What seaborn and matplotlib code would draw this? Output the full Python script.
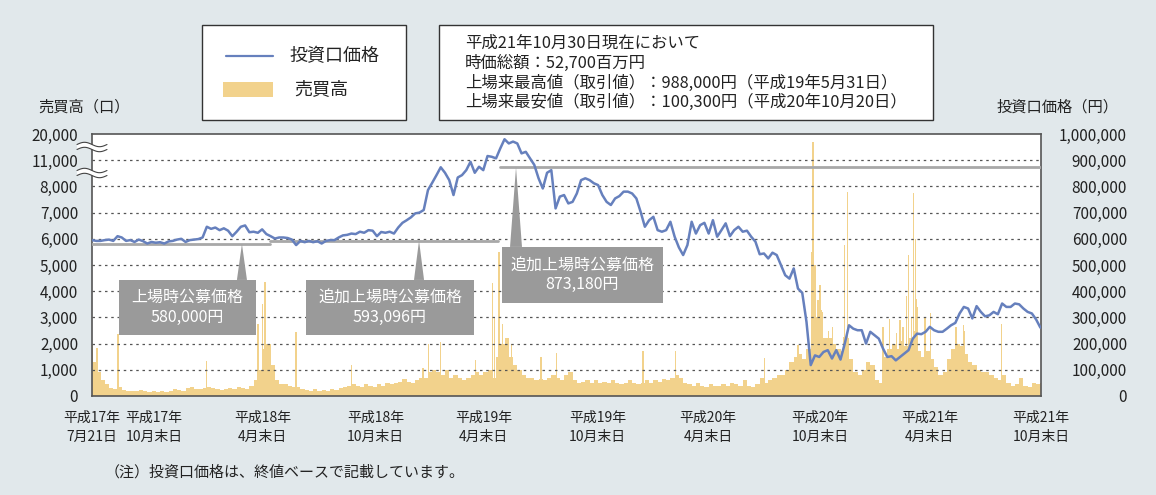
import numpy as np
import pandas as pd
import matplotlib
matplotlib.use('Agg')
import matplotlib.pyplot as plt
from matplotlib.patches import Rectangle, Polygon
from matplotlib.lines import Line2D
import seaborn as sns

#####################################
# data (weekly closes in thousand yen, weekly volume, daily volume spikes)
start_date = '2005-07-21'
end_date = '2009-10-30'

price_k = [595, 592, 592, 595, 597, 592, 610, 605, 592, 595, 588, 597, 591, 582, 588,
           585, 587, 582, 590, 592, 597, 600, 588, 595, 597, 599, 605, 646, 638, 643,
           633, 640, 631, 610, 627, 646, 651, 625, 627, 623, 636, 618, 610, 601, 605,
           605, 603, 597, 576, 592, 587, 592, 587, 591, 582, 592, 595, 595, 605, 613,
           615, 620, 618, 627, 623, 633, 631, 610, 626, 623, 627, 620, 643, 661, 671,
           682, 697, 700, 710, 786, 814, 843, 873, 852, 824, 767, 834, 843, 862, 894, 852,
           875, 862, 916, 913, 907, 945, 980, 964, 971, 964, 926, 932, 907, 882, 831,
           792, 852, 862, 716, 761, 767, 735, 741, 773, 824, 831, 824, 812, 805, 767,
           741, 729, 754, 763, 780, 780, 773, 754, 703, 646, 671, 684, 633, 627,
           633, 665, 608, 567, 538, 576, 665, 620, 652, 661, 620, 671, 608, 633, 659,
           610, 633, 646, 627, 631, 608, 589, 541, 544, 525, 547, 538, 499, 461, 448,
           487, 410, 394, 283, 118, 155, 149, 168, 175, 143, 175, 139, 200, 270,
           257, 251, 251, 200, 245, 232, 219, 181, 149, 152, 136, 149, 162, 175, 219,
           238, 236, 245, 264, 251, 245, 245, 257, 270, 279, 315, 340, 334, 296, 343,
           321, 304, 308, 321, 312, 353, 340, 340, 353, 350, 334, 321, 315, 292, 261]

vol_base = [1300, 900, 600, 450, 300, 280, 350, 220, 200, 180, 200, 220, 180, 170, 200,
            160, 180, 150, 200, 250, 220, 180, 300, 350, 280, 250, 300, 350, 300, 250,
            220, 280, 300, 250, 350, 300, 280, 400, 600, 1000, 1800, 2000, 1200, 600, 450,
            450, 400, 350, 350, 250, 220, 200, 250, 200, 220, 200, 250, 220, 300, 350,
            400, 450, 400, 350, 450, 400, 350, 450, 400, 500, 450, 500, 550, 650, 550,
            500, 600, 700, 700, 900, 1000, 900, 800, 1000, 700, 800, 700, 600, 700, 800, 900,
            800, 900, 1000, 700, 1500, 2000, 2200, 1500, 1200, 1000, 800, 700, 700, 600, 650,
            600, 700, 800, 700, 600, 800, 900, 600, 500, 550, 600, 500, 600, 500, 550,
            500, 600, 500, 450, 500, 600, 500, 450, 500, 600, 500, 600, 550, 650,
            600, 700, 800, 700, 500, 450, 400, 500, 400, 350, 450, 400, 400, 450, 400,
            500, 450, 400, 600, 400, 350, 450, 700, 500, 600, 700, 800, 800, 1000, 1300,
            1500, 1600, 1400, 1800, 3500, 3000, 3200, 2200, 2200, 2000, 1800, 1700, 2200, 1400,
            900, 800, 1000, 1300, 1200, 600, 500, 1500, 1800, 2000, 1800, 2100, 1900, 2200, 2500,
            1700, 1500, 1700, 1400, 1100, 800, 900, 1400, 1800, 2000, 1900, 1600, 1300, 1200, 1000,
            900, 900, 800, 700, 600, 800, 500, 400, 450, 700, 400, 350, 500, 450, 500]

spike_dates = ['2005-07-22', '2005-07-29', '2005-09-02', '2006-01-25', '2006-04-20',
               '2006-04-28', '2006-05-02', '2006-06-22', '2006-09-21', '2007-01-17',
               '2007-01-26', '2007-02-15', '2007-04-13', '2007-05-11', '2007-05-14',
               '2007-05-22', '2007-05-28', '2007-06-05', '2007-06-11', '2007-07-30',
               '2007-08-24', '2008-01-14', '2008-03-07', '2008-08-01', '2008-09-25',
               '2008-10-17', '2008-10-20', '2008-10-23', '2008-10-28', '2008-10-31',
               '2008-11-03', '2008-11-14', '2008-11-21', '2008-12-09', '2008-12-11',
               '2008-12-15', '2009-02-12', '2009-02-23', '2009-03-06', '2009-03-12',
               '2009-03-17', '2009-03-23', '2009-03-26', '2009-03-31', '2009-04-03',
               '2009-04-06', '2009-04-08', '2009-04-10', '2009-04-22', '2009-05-01',
               '2009-06-12', '2009-06-24', '2009-06-26', '2009-08-26']
spike_vols = [1950, 1850, 2350, 1350, 2750,
              3500, 4350, 2450, 1170, 1050,
              2000, 2050, 1360, 4300, 3000,
              5500, 2750, 1900, 2000, 1500,
              1650, 1700, 1700, 1450, 1950,
              5500, 17300, 5000, 3650, 4250,
              3300, 2500, 2650, 2250, 5750,
              7800, 2650, 2950, 2400, 2900,
              2650, 3800, 5400, 3000, 7750,
              6000, 3700, 3400, 3000, 3150,
              2650, 2700, 2500, 2750]

offer_prices = [580000, 593096, 873180]
offer_labels = ['上場時公募価格\n580,000円', '追加上場時公募価格\n593,096円', '追加上場時公募価格\n873,180円']

tick_dates = ['2005-07-21', '2005-10-31', '2006-04-28', '2006-10-31', '2007-04-27',
              '2007-10-31', '2008-04-30', '2008-10-31', '2009-04-30', '2009-10-30']
tick_labels = ['平成17年\n7月21日', '平成17年\n10月末日', '平成18年\n4月末日', '平成18年\n10月末日',
               '平成19年\n4月末日', '平成19年\n10月末日', '平成20年\n4月末日', '平成20年\n10月末日',
               '平成21年\n4月末日', '平成21年\n10月末日']
vol_tick_labels = [0, 1000, 2000, 3000, 4000, 5000, 6000, 7000, 8000, 11000, 20000]
price_ticks = [0, 100000, 200000, 300000, 400000, 500000, 600000, 700000, 800000, 900000, 1000000]

info_lines = ['平成21年10月30日現在において',
              '時価総額：52,700百万円',
              '上場来最高値（取引値）：988,000円（平成19年5月31日）',
              '上場来最安値（取引値）：100,300円（平成20年10月20日）']

#####################################
BG = '#e1e8eb'
LINE = '#6680bd'
VOL = '#f2d28c'
REF = '#a8a8a8'
BOX = '#9a9a9a'
TXT = '#222222'
W, H = 1156, 495


def vol_to_slot(v):
    # broken left axis: 0-8000 linear, then 8000-11000 and 11000-20000 squeezed into one step each
    v = np.asarray(v, dtype=float)
    return np.where(v <= 8000, v / 1000,
                    np.where(v <= 11000, 8 + (v - 8000) / 3000, 9 + (v - 11000) / 9000))


def fx(x):
    return x / W


def fy(y):
    return 1 - y / H


sns.set_theme(style='white')
plt.rcParams['font.family'] = ['Noto Sans CJK JP', 'DejaVu Sans']

fig = plt.figure(figsize=(W / 100, H / 100), dpi=100, facecolor=BG)
ax = fig.add_axes([fx(92), fy(396), 949 / W, 262 / H])
ax.set_facecolor('white')

weeks = pd.date_range(start_date, periods=len(price_k), freq='7D')
ax.bar(weeks, vol_to_slot(vol_base), width=7, align='edge', color=VOL, linewidth=0, zorder=1)
ax.bar(pd.to_datetime(spike_dates), vol_to_slot(spike_vols), width=2.2, color=VOL, linewidth=0, zorder=1)

for s in range(1, 10):
    ax.axhline(s, color='#555555', lw=0.9, ls=(0, (2, 3)), zorder=3)

ax.set_ylim(0, 10)
ax.set_yticks(range(11))
ax.set_yticklabels(['{:,}'.format(v) for v in vol_tick_labels], fontsize=11, color=TXT)
ax.tick_params(axis='y', length=0, pad=10)
ax.set_xticks(pd.to_datetime(tick_dates))
ax.set_xticklabels(tick_labels, fontsize=10, color=TXT, linespacing=1.45)
ax.tick_params(axis='x', length=3, direction='in', color='#999999', pad=11)
for sp in ax.spines.values():
    sp.set_color('#555555')
    sp.set_linewidth(1.2)

ax2 = ax.twinx()
sns.lineplot(x=weeks, y=np.array(price_k) * 1000, ax=ax2, color=LINE, lw=1.8, zorder=6)
ax2.set_ylim(0, 1000000)
ax2.set_yticks(price_ticks)
ax2.set_yticklabels(['{:,}'.format(v) for v in price_ticks], fontsize=11, color=TXT)
for lbl in ax2.get_yticklabels():
    lbl.set_horizontalalignment('right')
ax2.tick_params(axis='y', length=0, pad=62)
ax2.set_ylabel('')
ax2.set_xlabel('')
for sp in ax2.spines.values():
    sp.set_visible(False)
ax.set_xlim(pd.Timestamp(start_date), pd.Timestamp(end_date))

# offer price lines and callouts
ref_spans = [(0, 0.1876), (0.1876, 0.428), (0.43, 1.0)]
for p, (a, b) in zip(offer_prices, ref_spans):
    ax2.axhline(p, a, b, color=REF, lw=2, zorder=4)

boxes = [(0.0285, 0.233, 0.1445, 0.21), (0.2255, 0.233, 0.177, 0.21), (0.432, 0.355, 0.1697, 0.214)]
tips = [(0.158, 0.0053), (0.3446, 0.0053), (0.4468, 0.0063)]
for (bx, by, bw, bh), (tx, hw), p, lab in zip(boxes, tips, offer_prices, offer_labels):
    ax2.add_patch(Polygon([(tx - hw, by + bh), (tx + hw, by + bh), (tx, p / 1000000)],
                          closed=True, transform=ax2.transAxes, color=BOX, lw=0, zorder=7))
    ax2.add_patch(Rectangle((bx, by), bw, bh, transform=ax2.transAxes, color=BOX, lw=0, zorder=7))
    ax2.text(bx + bw / 2, by + bh / 2, lab, transform=ax2.transAxes, ha='center', va='center',
             fontsize=11.5, color='white', linespacing=1.2, zorder=8)

# axis break marks on the left axis
t = np.linspace(77, 107, 40)
wave = 2.2 * np.sin(2 * np.pi * (t - 77) / 30)
for yc in [147, 173]:
    up = yc - 2.5 - wave
    lo = yc + 2.5 - wave
    pts = [(fx(a), fy(b)) for a, b in zip(t, up)] + [(fx(a), fy(b)) for a, b in zip(t[::-1], lo[::-1])]
    fig.add_artist(Polygon(pts, closed=True, transform=fig.transFigure, color='white', lw=0, zorder=5))
    fig.add_artist(Line2D(fx(t), fy(up), transform=fig.transFigure, color='#444444', lw=0.8, zorder=6))
    fig.add_artist(Line2D(fx(t), fy(lo), transform=fig.transFigure, color='#444444', lw=0.8, zorder=6))

# axis titles
fig.text(fx(38), fy(107), '売買高（口）', fontsize=11, color=TXT, va='center', ha='left')
fig.text(fx(997), fy(107), '投資口価格（円）', fontsize=11, color=TXT, va='center', ha='left')

# legend box
fig.add_artist(Rectangle((fx(202), fy(120)), fx(406 - 202), 95 / H, transform=fig.transFigure,
                         facecolor='white', edgecolor='#333333', lw=1))
fig.add_artist(Line2D([fx(226), fx(273)], [fy(56), fy(56)], transform=fig.transFigure, color=LINE, lw=1.6))
fig.text(fx(289), fy(56), '投資口価格', fontsize=13, color=TXT, va='center')
fig.add_artist(Rectangle((fx(223), fy(97)), fx(50), 15 / H, transform=fig.transFigure, color=VOL, lw=0))
fig.text(fx(294), fy(89), '売買高', fontsize=13, color=TXT, va='center')

# info box
fig.add_artist(Rectangle((fx(439), fy(120)), fx(933 - 439), 95 / H, transform=fig.transFigure,
                         facecolor='white', edgecolor='#333333', lw=1))
for yy, line in zip([43, 63, 83, 102], info_lines):
    fig.text(fx(465), fy(yy), line, fontsize=11.8, color=TXT, va='center')

fig.text(fx(105), fy(472), '（注）投資口価格は、終値ベースで記載しています。', fontsize=10.8, color=TXT, va='center')

fig.savefig('out.png', dpi=100, facecolor=BG)
